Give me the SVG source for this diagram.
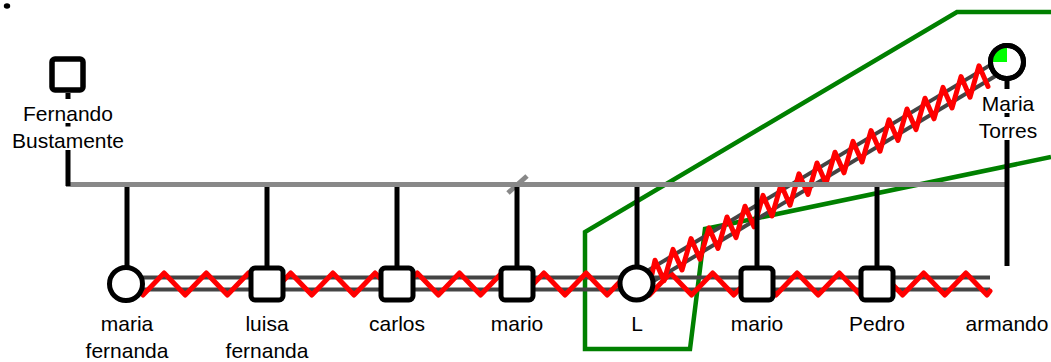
<svg xmlns="http://www.w3.org/2000/svg" width="1051" height="362" viewBox="0 0 1051 362">
<style>
text{font-family:"Liberation Sans",Arial,sans-serif;font-size:21px;fill:#000;text-anchor:middle}
.blk{stroke:#000;stroke-width:5;fill:none}
.sib{stroke:#888;stroke-width:5;fill:none}
.dbl{stroke:#444;stroke-width:4;fill:none}
.zz{stroke:#f00;stroke-width:5;fill:none;stroke-linejoin:round;stroke-linecap:round}
.grn{stroke:#008000;stroke-width:4.5;fill:none}
.sq{fill:#fff;stroke:#000;stroke-width:5}
.ci{fill:#fff;stroke:#000;stroke-width:5}
</style>
<ellipse cx="7" cy="6" rx="3.2" ry="2.7" fill="#000"/>
<g id="connectors">
<path class="grn" d="M1051,12 L957,12 L585,232 L585,349 L690,349 L705,229 L1051,157"/>
<line class="dbl" x1="127" y1="277.5" x2="990" y2="277.5"/>
<line class="dbl" x1="127" y1="289.5" x2="990" y2="289.5"/>
<polyline class="zz" points="143,295 164.1,273 185.2,295 206.3,273 227.4,295 248.5,273 269.6,295 290.7,273 311.8,295 332.9,273 354,295 375.1,273 396.2,295 417.3,273 438.4,295 459.5,273 480.6,295 501.7,273 522.8,295 543.9,273 565,295 586.1,273 607.2,295 628.3,273 649.4,295 670.5,273 691.6,295 712.7,273 733.8,295 754.9,273 776,295 797.1,273 818.2,295 839.3,273 860.4,295 881.5,273 902.6,295 923.7,273 944.8,295 965.9,273 987,295 990,291"/>
<g transform="translate(637,284) rotate(-30.96)">
<line class="dbl" x1="0" y1="-6" x2="431.5" y2="-6"/>
<line class="dbl" x1="0" y1="6" x2="431.5" y2="6"/>
</g>
<polyline class="zz" points="652,274 655,260.2 664,280.8 673,249.4 682,270 691,238.6 700,259.2 709,227.8 718,248.4 727,217 736,237.6 745,206.2 754,226.8 763,195.4 772,216 781,184.6 790,205.2 799,173.8 808,194.4 817,163 826,183.6 835,152.2 844,172.8 853,141.4 862,162 871,130.6 880,151.2 889,119.8 898,140.4 907,109 916,129.6 925,98.2 934,118.8 943,87.4 952,108 961,76.6 970,97.2 979,65.8 988,86.4"/>
<line class="sib" x1="66" y1="184.5" x2="1009" y2="184.5"/>
<line class="sib" x1="508" y1="193" x2="527" y2="176"/>
<path class="blk" d="M68,93V99 M68,123V126.5 M68,150V186"/>
<path class="blk" d="M1007,80V89 M1007,113V117 M1007,140V266"/>
<path class="blk" d="M127,187V268 M267,187V268 M397,187V268 M517,187V268 M637,187V268 M757,187V268 M877,187V268"/>
</g>
<g id="fernando">
<rect class="sq" x="52" y="59" width="31" height="31" rx="3" style="stroke-width:5.5"/>
<text x="68" y="121">Fernando</text>
<text x="68" y="148">Bustamente</text>
</g>
<g id="maria-torres">
<circle class="ci" cx="1007" cy="62" r="16.5"/>
<path d="M1007,62 H991 A16,16 0 0 1 1007,46 Z" fill="#0f0"/>
<circle cx="1007" cy="62" r="16.5" fill="none" stroke="#000" stroke-width="5"/>
<text x="1008" y="110.5">Maria</text>
<text x="1008" y="137.5">Torres</text>
</g>
<g id="maria-fernanda">
<circle class="ci" cx="126" cy="284" r="16.5"/>
<text x="127" y="331">maria</text>
<text x="127" y="358">fernanda</text>
</g>
<g id="luisa-fernanda">
<rect class="sq" x="251" y="268" width="32" height="32" rx="4"/>
<text x="267" y="331">luisa</text>
<text x="267" y="358">fernanda</text>
</g>
<g id="carlos">
<rect class="sq" x="381" y="268" width="32" height="32" rx="4"/>
<text x="397" y="331">carlos</text>
</g>
<g id="mario1">
<rect class="sq" x="501" y="268" width="32" height="32" rx="4"/>
<text x="517" y="331">mario</text>
</g>
<g id="L">
<circle class="ci" cx="636.5" cy="283.5" r="16.5"/>
<text x="637" y="331">L</text>
</g>
<g id="mario2">
<rect class="sq" x="741" y="268" width="32" height="32" rx="4"/>
<text x="757" y="331">mario</text>
</g>
<g id="pedro">
<rect class="sq" x="861" y="268" width="32" height="32" rx="4"/>
<text x="877" y="331">Pedro</text>
</g>
<g id="armando">
<text x="1007" y="331">armando</text>
</g>
</svg>
